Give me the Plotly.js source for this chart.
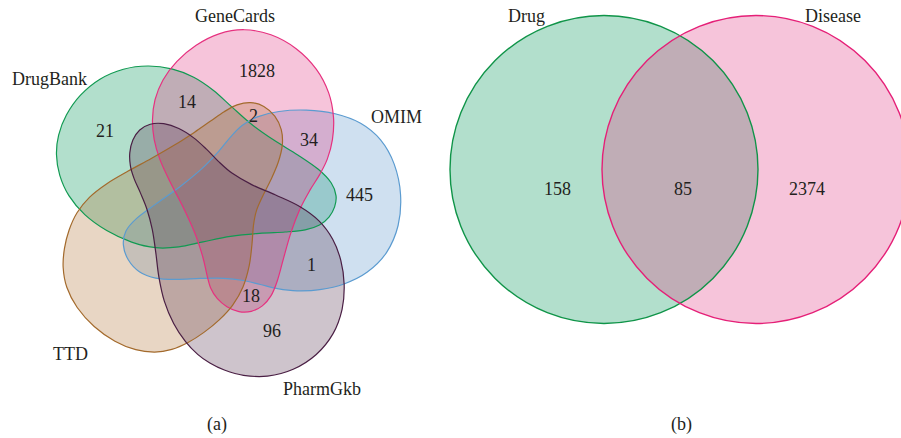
<!DOCTYPE html>
<html><head><meta charset="utf-8">
<script src="https://cdn.plot.ly/plotly-3.0.1.min.js"></script>
<style>html,body{margin:0;padding:0;background:#fff}</style>
</head><body><div id="chart" style="width:901px;height:438px"></div>
<script>
// ---------------- data ----------------
const setNamesA = ['DrugBank', 'OMIM', 'GeneCards', 'TTD', 'PharmGkb'];
const regionCountsA = [1828, 14, 21, 2, 34, 445, 1, 18, 96];
const setNamesB = ['Drug', 'Disease'];
const regionCountsB = [158, 85, 2374];
const panelLabels = ['(a)', '(b)'];

// ---------------- geometry & style (pixel space of the page) ----------------
const outlineA = {
  DrugBank: [[150,66.7],[170,69.3],[193.3,76.7],[216.7,91.7],[230,105],[250,126.7],[273.3,140],[296.7,153.3],[320,170],[331.7,183.3],[335,195],[333.3,206.7],[328.3,216.7],[320,225],[303.3,230.7],[286.7,232.3],[260,232.5],[230,235],[200,241.7],[180,246.7],[156.7,249],[133.3,241.7],[106.7,230],[83.3,213.3],[70,198],[60,173.3],[57.3,153.3],[59.3,136.7],[66.7,116.7],[80,95],[100,78.3],[123.3,70]],
  GeneCards: [[243.3,30],[270,35],[296.7,48.3],[316.7,70],[328.3,93.3],[333.3,116.7],[331.7,140],[326.7,160],[320,175],[310,190],[300,206],[290,233],[283.3,260],[276.7,283.3],[271.7,293.3],[263.3,305],[250,311.7],[240,311.7],[226.7,306.7],[216.7,296.7],[210,286.7],[206.7,276.7],[203.3,256.7],[196.7,233.3],[182,204],[168.3,180],[160,160],[155,140],[153.3,120],[155,100],[163.3,80],[176.7,61.7],[196.7,46.7],[220,33.3]],
  OMIM: [[306.7,110],[336.7,115],[360,123.3],[380,140],[393.3,163.3],[400,193.3],[398.3,226.7],[386.7,253.3],[366.7,271.7],[343.3,283.3],[320,289.3],[296.7,290.7],[276.7,288.3],[260,285],[243.3,280],[226.7,277.3],[200,278.5],[175,279],[157,278],[140,273.3],[128.3,260],[124,243.3],[126.7,230],[136.7,218.3],[153.3,206.7],[180,186.7],[206.7,166.7],[216.7,153.3],[230,136.7],[243.3,125],[256.7,118.3],[276.7,111.7]],
  TTD: [[250,101.7],[263.3,106.7],[275,116.7],[281.7,130],[281.7,146.7],[278.3,160],[271.7,180],[261,200],[256,210],[253.3,223.3],[251.7,243.3],[250,266.7],[243.3,286.7],[231.7,306.7],[220,318],[203.3,331.7],[186.7,343.3],[173.3,348.3],[153.3,351.7],[136.7,349.3],[116.7,341.7],[93.3,326.7],[76.7,306.7],[66.7,286.7],[64,266.7],[65,250],[70,230],[78,211],[88,199],[106.7,183.3],[130,170],[150,160],[173.3,146.7],[196.7,130],[210,122],[223.3,113.3],[236.7,105]],
  PharmGkb: [[163.3,123.3],[180,128.3],[193.3,138.3],[206.7,150],[220,160],[230,173.3],[250,186.7],[276.7,195],[300,205],[320,221.7],[331.7,240],[340,260],[343.3,283.3],[341.7,310],[333.3,333.3],[316.7,353.3],[293.3,370],[266.7,376.7],[243.3,375],[223.3,368.3],[210,362],[199,354],[186.7,343.3],[173.3,323.3],[163.3,300],[158.3,276.7],[156.7,253.3],[153.3,230],[146.7,207],[140,193],[135,180],[130,166.7],[130,153.3],[133.3,140],[140,130],[150,125]]
};
const fillA = {DrugBank:'rgba(0,150,85,0.3)', OMIM:'rgba(95,152,205,0.3)', GeneCards:'rgba(225,58,132,0.3)', TTD:'rgba(178,118,58,0.3)', PharmGkb:'rgba(92,58,85,0.3)'};
const lineA = {DrugBank:'#119a52', OMIM:'#5b9bd0', GeneCards:'#e6317f', TTD:'#a36a2c', PharmGkb:'#4a1f44'};
const setLabelPosA = {GeneCards:[235,16], DrugBank:[49.5,79], OMIM:[396,117], TTD:[70,354], PharmGkb:[322,389]};
const regionPosA = [[257,71],[187,102],[105,131],[253.5,116],[309,139.5],[359.5,194.5],[311,265],[250.5,295.5],[272,331]];

const circlesB = [{c:[604,169.5], r:154}, {c:[756,169.5], r:154}];
const fillB = ['rgba(0,150,85,0.3)', 'rgba(225,58,132,0.3)'];
const lineB = ['#0f9448', '#e51f77'];
const setLabelPosB = [[526.5,16], [833,16]];
const regionPosB = [[557,188.5],[683,188.5],[807,188.5]];
const panelLabelPos = [[217,424],[681,424]];

const textColor = '#231f20';
const fontFam = 'Liberation Serif, Times New Roman, serif';

// ---------------- helpers ----------------
function f(p) { return p[0].toFixed(2) + ',' + p[1].toFixed(2); }
// Taubin smoothing of a closed outline (removes tracing jitter without shrinking)
function taubin(pts, iters) {
  let cur = pts.map(p => p.slice());
  const n = cur.length;
  const step = (arr, k) => arr.map((p, i) => {
    const a = arr[(i - 1 + n) % n], b = arr[(i + 1) % n];
    return [p[0] + k * ((a[0] + b[0]) / 2 - p[0]), p[1] + k * ((a[1] + b[1]) / 2 - p[1])];
  });
  for (let it = 0; it < iters; it++) { cur = step(cur, 0.5); cur = step(cur, -0.53); }
  return cur;
}
function smoothPath(pts) {
  const n = pts.length;
  let d = 'M' + f(pts[0]);
  for (let i = 0; i < n; i++) {
    const p0 = pts[(i - 1 + n) % n], p1 = pts[i], p2 = pts[(i + 1) % n], p3 = pts[(i + 2) % n];
    const c1 = [p1[0] + (p2[0] - p0[0]) / 6, p1[1] + (p2[1] - p0[1]) / 6];
    const c2 = [p2[0] - (p3[0] - p1[0]) / 6, p2[1] - (p3[1] - p1[1]) / 6];
    d += ' C' + f(c1) + ' ' + f(c2) + ' ' + f(p2);
  }
  return d + ' Z';
}

const shapes = [];
const paths = {};
setNamesA.forEach(name => { paths[name] = smoothPath(taubin(outlineA[name], 6)); });
// fills
setNamesA.forEach(name => shapes.push({type:'path', xref:'x', yref:'y', path:paths[name], fillcolor:fillA[name], line:{width:0}, layer:'above'}));
circlesB.forEach((c, i) => shapes.push({type:'circle', xref:'x', yref:'y', x0:c.c[0]-c.r, x1:c.c[0]+c.r, y0:c.c[1]-c.r, y1:c.c[1]+c.r, fillcolor:fillB[i], line:{width:0}, layer:'above'}));
// outlines
setNamesA.forEach(name => shapes.push({type:'path', xref:'x', yref:'y', path:paths[name], fillcolor:'rgba(0,0,0,0)', line:{color:lineA[name], width:1.2}, layer:'above'}));
circlesB.forEach((c, i) => shapes.push({type:'circle', xref:'x', yref:'y', x0:c.c[0]-c.r, x1:c.c[0]+c.r, y0:c.c[1]-c.r, y1:c.c[1]+c.r, fillcolor:'rgba(0,0,0,0)', line:{color:lineB[i], width:1.4}, layer:'above'}));

const annotations = [];
function addText(txt, pos) {
  annotations.push({x:pos[0], y:pos[1], xref:'x', yref:'y', text:String(txt), showarrow:false,
    xanchor:'center', yanchor:'middle', font:{family:fontFam, size:18, color:textColor}});
}
setNamesA.forEach(name => addText(name, setLabelPosA[name]));
regionCountsA.forEach((v, i) => addText(v, regionPosA[i]));
setNamesB.forEach((name, i) => addText(name, setLabelPosB[i]));
regionCountsB.forEach((v, i) => addText(v, regionPosB[i]));
panelLabels.forEach((t, i) => addText(t, panelLabelPos[i]));

const axisBase = {showgrid:false, zeroline:false, showticklabels:false, ticks:'', showline:false, fixedrange:true};
const layout = {
  width:901, height:438, margin:{l:0, r:0, t:0, b:0},
  paper_bgcolor:'#ffffff', plot_bgcolor:'#ffffff',
  xaxis:Object.assign({range:[0, 901]}, axisBase),
  yaxis:Object.assign({range:[438, 0]}, axisBase),
  shapes:shapes, annotations:annotations, showlegend:false
};
Plotly.newPlot('chart', [], layout, {displayModeBar:false, staticPlot:true});
</script>
</body></html>
